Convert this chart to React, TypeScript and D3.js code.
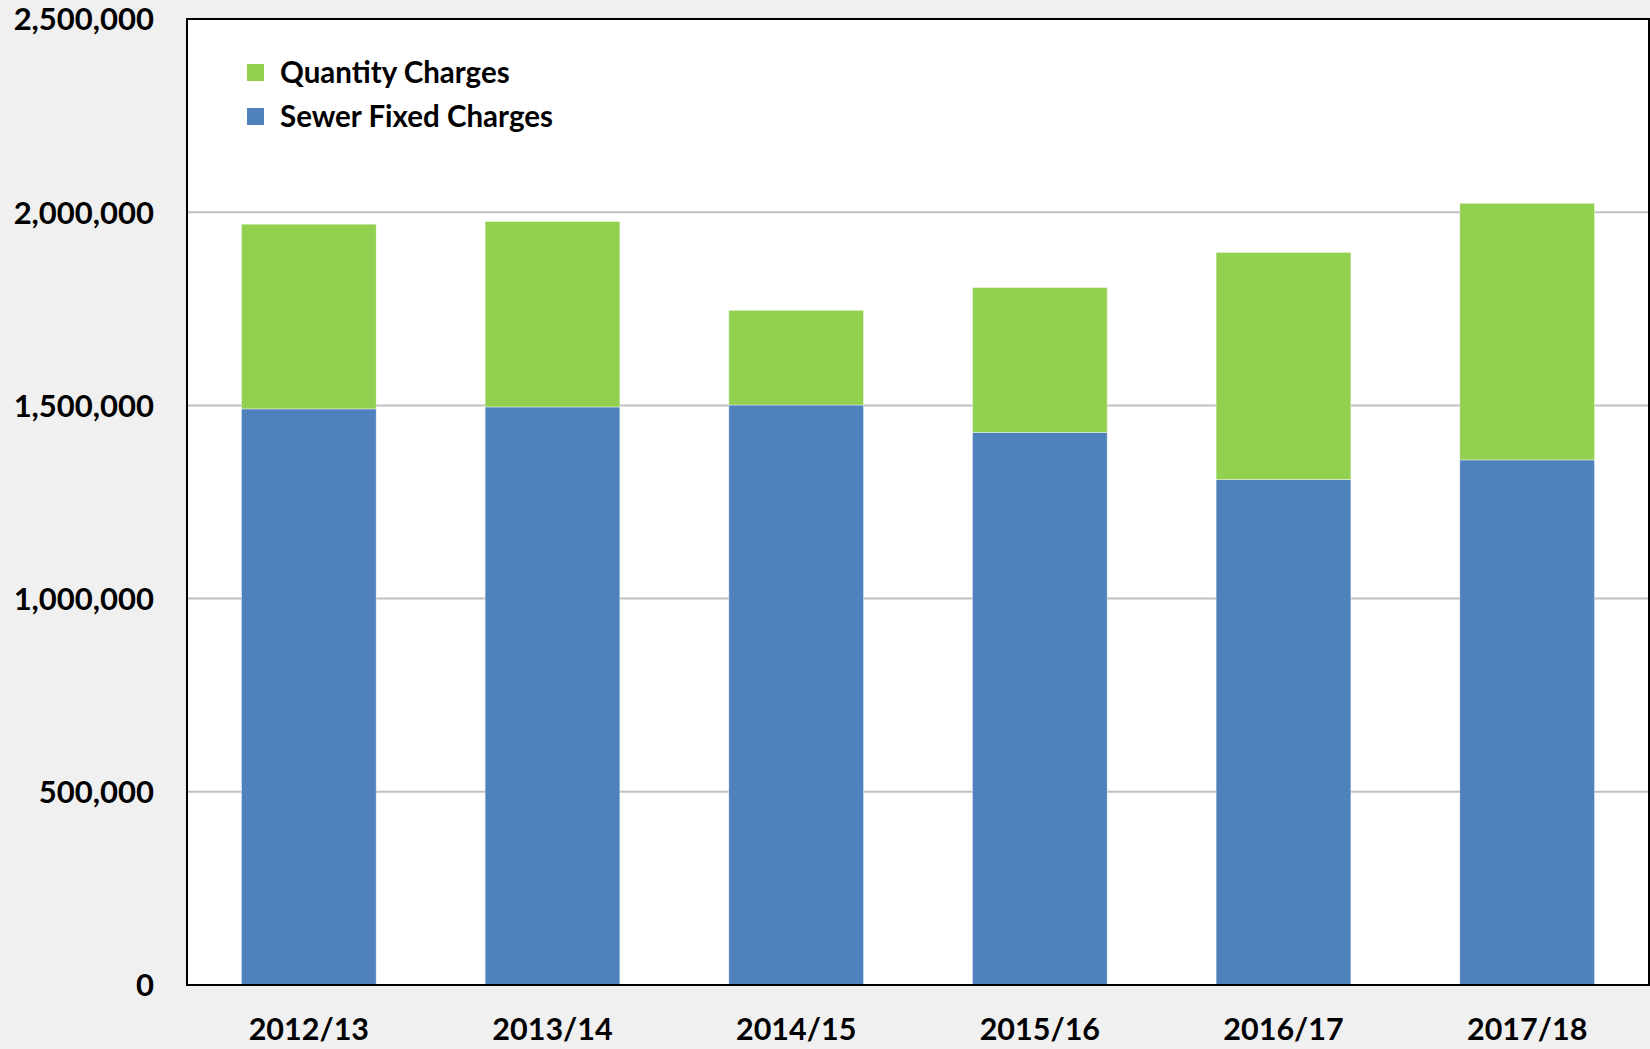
import React, { useRef, useEffect } from "react";
import * as d3 from "d3";

const years = ["2012/13", "2013/14", "2014/15", "2015/16", "2016/17", "2017/18"];
const sewerFixed = [1491000, 1496000, 1501000, 1430000, 1308000, 1359000];
const quantity = [478000, 480000, 245000, 375000, 588000, 664000];
const seriesNames = ["Quantity Charges", "Sewer Fixed Charges"];
const yTicks = [0, 500000, 1000000, 1500000, 2000000, 2500000];

const width = 1650;
const height = 1049;
const margin = { top: 19, right: 1, bottom: 64, left: 187 };
const GREEN = "#92d050";
const BLUE = "#4f81bd";
const FONT = "Lato, 'Open Sans', sans-serif";

const App = () => {
  const svgRef = useRef<SVGSVGElement>(null);

  useEffect(() => {
    document.body.style.margin = "0";
    const svg = d3.select(svgRef.current);
    svg.selectAll("*").remove();

    const rows = years.map((year, i) => ({
      year,
      fixed: sewerFixed[i],
      quantity: quantity[i],
    }));

    const stack = d3.stack<any>().keys(["fixed", "quantity"]);
    const layers = stack(rows);

    const xScale = d3
      .scaleBand()
      .domain(years)
      .range([margin.left, width - margin.right])
      .paddingInner(0.447)
      .paddingOuter(0.2235);

    const yScale = d3
      .scaleLinear()
      .domain([0, 2500000])
      .range([height - margin.bottom, margin.top]);

    // background
    svg.append("rect").attr("width", width).attr("height", height).attr("fill", "#f0f0f0");
    svg
      .append("rect")
      .attr("x", margin.left)
      .attr("y", margin.top)
      .attr("width", width - margin.right - margin.left)
      .attr("height", height - margin.bottom - margin.top)
      .attr("fill", "#ffffff");

    // gridlines
    svg
      .append("g")
      .selectAll("line")
      .data(yTicks.filter(t => t > 0 && t < 2500000))
      .join("line")
      .attr("x1", margin.left)
      .attr("x2", width - margin.right)
      .attr("y1", d => yScale(d))
      .attr("y2", d => yScale(d))
      .attr("stroke", "#c0c0c0")
      .attr("stroke-width", 2);

    // bars
    svg
      .append("g")
      .selectAll("g")
      .data(layers)
      .join("g")
      .attr("fill", d => (d.key === "fixed" ? BLUE : GREEN))
      .selectAll("rect")
      .data(d => d)
      .join("rect")
      .attr("x", d => xScale(d.data.year))
      .attr("y", d => yScale(d[1]))
      .attr("width", xScale.bandwidth())
      .attr("height", d => yScale(d[0]) - yScale(d[1]))
      .attr("stroke", "#ffffff")
      .attr("stroke-opacity", 0.5)
      .attr("stroke-width", 0.8);

    // plot frame
    svg
      .append("rect")
      .attr("x", margin.left)
      .attr("y", margin.top)
      .attr("width", width - margin.right - margin.left)
      .attr("height", height - margin.bottom - margin.top)
      .attr("fill", "none")
      .attr("stroke", "#000")
      .attr("stroke-width", 2);

    // y axis labels
    const yAxis = d3
      .axisLeft(yScale)
      .tickValues(yTicks)
      .tickFormat(d3.format(","))
      .tickSize(0)
      .tickPadding(33);
    const yG = svg.append("g").attr("transform", `translate(${margin.left},0)`).call(yAxis);
    yG.select(".domain").remove();
    yG.selectAll("text")
      .attr("font-family", FONT)
      .attr("font-weight", 700)
      .attr("font-size", 31)
      .attr("fill", "#000")
      .attr("dy", "0.35em");

    // x axis labels
    const xAxis = d3.axisBottom(xScale).tickSize(0).tickPadding(33);
    const xG = svg
      .append("g")
      .attr("transform", `translate(0,${height - margin.bottom})`)
      .call(xAxis);
    xG.select(".domain").remove();
    xG.selectAll("text")
      .attr("font-family", FONT)
      .attr("font-weight", 700)
      .attr("font-size", 30.5)
      .attr("fill", "#000");

    // legend
    const legend = svg
      .append("g")
      .selectAll("g")
      .data(seriesNames)
      .join("g")
      .attr("transform", (d, i) => `translate(247,${64 + i * 44})`);
    legend
      .append("rect")
      .attr("width", 17)
      .attr("height", 17)
      .attr("fill", (d, i) => (i === 0 ? GREEN : BLUE));
    legend
      .append("text")
      .attr("x", 33)
      .attr("y", 9)
      .attr("dy", "0.35em")
      .attr("font-family", FONT)
      .attr("font-weight", 700)
      .attr("font-size", 29.5)
      .attr("fill", "#000")
      .text(d => d);
  }, []);

  return <svg ref={svgRef} width={width} height={height} style={{ display: "block" }} />;
};

export default App;
